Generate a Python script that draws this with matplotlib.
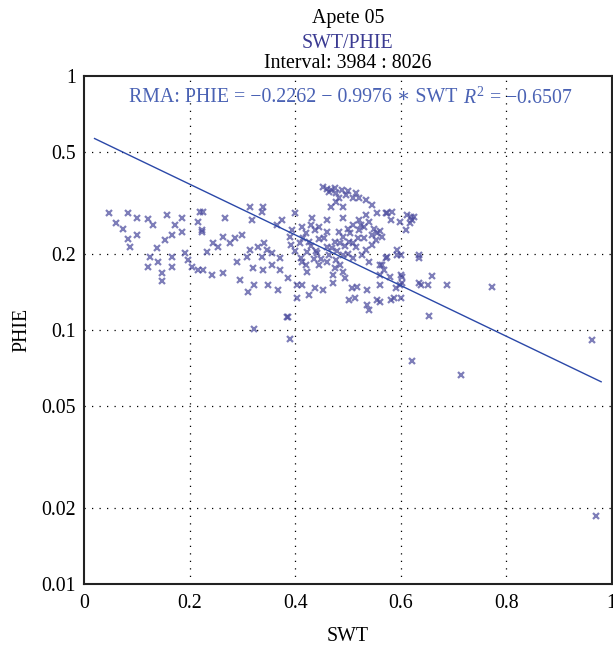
import numpy as np
import matplotlib
matplotlib.use("Agg")
import matplotlib.pyplot as plt

plt.rcParams['font.family'] = ['Liberation Serif', 'DejaVu Serif']
plt.rcParams['mathtext.fontset'] = 'custom'
plt.rcParams['mathtext.rm'] = 'Liberation Serif'
plt.rcParams['mathtext.it'] = 'Liberation Serif:italic'

title1 = "Apete 05"
title2 = "SWT/PHIE"
title3 = "Interval: 3984 : 8026"
x_label = "SWT"
y_label = "PHIE"

intercept = -0.2262
slope = -0.9976
r2 = -0.6507
line_x_range = [0.02, 0.98]

x_ticks = [0, 0.2, 0.4, 0.6, 0.8, 1]
x_tick_labels = ["0", "0.2", "0.4", "0.6", "0.8", "1"]
y_ticks = [0.01, 0.02, 0.05, 0.1, 0.2, 0.5, 1]
y_tick_labels = ["0.01", "0.02", "0.05", "0.1", "0.2", "0.5", "1"]

swt = [
    0.047, 0.061, 0.074, 0.083, 0.100, 0.121, 0.130, 0.100, 0.083, 0.087,
    0.157, 0.172, 0.185, 0.185, 0.166, 0.153, 0.138, 0.125, 0.140, 0.166,
    0.121, 0.166, 0.148, 0.148, 0.191, 0.197, 0.204, 0.216, 0.219, 0.216,
    0.223,
    0.225, 0.223, 0.267, 0.314, 0.339, 0.337, 0.318, 0.299, 0.286, 0.263,
    0.244, 0.233, 0.253, 0.276, 0.289, 0.308, 0.314, 0.329, 0.342, 0.346,
    0.337, 0.320, 0.339, 0.356, 0.371, 0.371, 0.357, 0.393, 0.390, 0.395,
    0.399, 0.365, 0.376, 0.242, 0.263, 0.295, 0.323, 0.310, 0.348, 0.367,
    0.386, 0.403, 0.403, 0.384, 0.225, 0.412, 0.409,
    0.452, 0.469, 0.478, 0.488, 0.497, 0.509, 0.522, 0.535, 0.545, 0.484,
    0.469, 0.490, 0.478, 0.460, 0.475, 0.465, 0.500, 0.515,
    0.433, 0.460, 0.490, 0.522, 0.535, 0.556, 0.575, 0.582, 0.598, 0.613,
    0.626, 0.617, 0.611, 0.414, 0.437, 0.461, 0.484, 0.522, 0.531, 0.545,
    0.554, 0.565, 0.545, 0.535, 0.516, 0.503, 0.490, 0.475, 0.460, 0.446,
    0.427, 0.422, 0.441, 0.465, 0.478, 0.490, 0.509, 0.526, 0.541, 0.560,
    0.575, 0.594, 0.569, 0.560, 0.579, 0.601, 0.603, 0.592, 0.560, 0.537,
    0.518, 0.507, 0.513, 0.503, 0.537, 0.556, 0.541, 0.582, 0.601, 0.422,
    0.414, 0.437, 0.452, 0.427, 0.471, 0.490, 0.471, 0.494, 0.446, 0.414,
    0.635, 0.635,
    0.573, 0.584, 0.620, 0.622, 0.594, 0.601, 0.635, 0.573, 0.565, 0.603,
    0.598, 0.639, 0.651, 0.660, 0.687, 0.774, 0.588, 0.654, 0.622, 0.963,
    0.560,
    0.322, 0.386, 0.390, 0.715, 0.970,
    0.420, 0.430, 0.440, 0.450, 0.455, 0.470, 0.480, 0.485, 0.495, 0.500,
    0.505, 0.430, 0.445, 0.415, 0.400, 0.460, 0.475, 0.485, 0.420, 0.435,
    0.510, 0.525, 0.530, 0.540, 0.550, 0.555, 0.560, 0.520, 0.510, 0.500,
]
phie = [
    0.289, 0.264, 0.250, 0.289, 0.276, 0.274, 0.259, 0.237, 0.228, 0.212,
    0.284, 0.259, 0.243, 0.276, 0.237, 0.226, 0.210, 0.194, 0.185, 0.194,
    0.177, 0.177, 0.168, 0.156, 0.201, 0.189, 0.177, 0.172, 0.292, 0.266,
    0.243,
    0.292, 0.248, 0.276, 0.305, 0.305, 0.292, 0.271, 0.237, 0.230, 0.232,
    0.220, 0.203, 0.212, 0.220, 0.185, 0.194, 0.207, 0.212, 0.220, 0.207,
    0.194, 0.175, 0.172, 0.180, 0.172, 0.192, 0.201, 0.216, 0.232, 0.248,
    0.289, 0.259, 0.271, 0.165, 0.168, 0.157, 0.150, 0.141, 0.150, 0.144,
    0.160, 0.150, 0.134, 0.112, 0.172, 0.192, 0.220,
    0.366, 0.356, 0.346, 0.356, 0.340, 0.331, 0.331, 0.325, 0.311, 0.331,
    0.305, 0.305, 0.319, 0.360, 0.362, 0.350, 0.352, 0.345,
    0.276, 0.271, 0.276, 0.271, 0.284, 0.289, 0.289, 0.271, 0.266, 0.284,
    0.279, 0.264, 0.248, 0.254, 0.248, 0.243, 0.243, 0.248, 0.230, 0.237,
    0.226, 0.232, 0.216, 0.207, 0.212, 0.222, 0.232, 0.222, 0.212, 0.228,
    0.222, 0.203, 0.201, 0.197, 0.189, 0.197, 0.192, 0.197, 0.185, 0.180,
    0.194, 0.197, 0.172, 0.165, 0.162, 0.165, 0.153, 0.146, 0.150, 0.144,
    0.148, 0.146, 0.134, 0.131, 0.125, 0.131, 0.120, 0.131, 0.134, 0.169,
    0.150, 0.146, 0.144, 0.137, 0.165, 0.169, 0.153, 0.160, 0.180, 0.185,
    0.197, 0.153,
    0.289, 0.292, 0.279, 0.271, 0.207, 0.197, 0.192, 0.192, 0.180, 0.162,
    0.150, 0.150, 0.150, 0.163, 0.150, 0.148, 0.134, 0.114, 0.0755, 0.091,
    0.129,
    0.101, 0.112, 0.092, 0.0665, 0.0185,
    0.240, 0.215, 0.205, 0.190, 0.230, 0.210, 0.205, 0.220, 0.215, 0.250,
    0.240, 0.260, 0.255, 0.230, 0.205, 0.185, 0.175, 0.180, 0.180, 0.190,
    0.260, 0.260, 0.255, 0.265, 0.250, 0.240, 0.245, 0.230, 0.220, 0.200,
]

FS = 14.3

fig = plt.figure(figsize=(6.13, 6.48), dpi=100)
ax = fig.add_axes([84 / 613, 1 - 584 / 648, (611.7 - 84) / 613, (584 - 76) / 648])

ax.set_yscale('log')
ax.set_xlim(0, 0.998)
ax.set_ylim(0.01, 1)

ax.plot(swt, phie, linestyle='none', marker='x', markersize=4.8, markeredgewidth=1.6,
        color=(0.30, 0.30, 0.62, 0.72), zorder=3)

lx = np.linspace(line_x_range[0], line_x_range[1], 50)
ly = 10 ** (intercept + slope * lx)
ax.plot(lx, ly, color='#2b48a8', linewidth=1.0, zorder=4)

ax.set_xticks(x_ticks)
ax.set_xticklabels(x_tick_labels)
ax.set_yticks(y_ticks)
ax.set_yticklabels(y_tick_labels)
ax.yaxis.set_minor_locator(matplotlib.ticker.NullLocator())
ax.tick_params(axis='both', length=0, labelsize=FS, colors='black')
ax.tick_params(axis='x', pad=7)
ax.tick_params(axis='y', pad=6)

for gx in x_ticks[1:-1]:
    ax.axvline(gx, color='black', linewidth=0.9, linestyle=(0, (1, 5)), zorder=1)
for gy in y_ticks[1:-1]:
    ax.axhline(gy, color='black', linewidth=0.9, linestyle=(0, (1, 5)), zorder=1)

for s in ax.spines.values():
    s.set_linewidth(1.5)
    s.set_color('#222222')

ax.set_xlabel(x_label, fontsize=FS, labelpad=10)
ax.set_ylabel(y_label, fontsize=FS, labelpad=7)

eq_color = '#4a62b4'
eq1 = "RMA: PHIE = \u22120.2262 \u2212 0.9976 \u2217 SWT "
eq2 = "$R^2$ = \u22120.6507"
t1 = fig.text(129 / 613, 1 - 98 / 648, eq1, fontsize=FS, color=eq_color,
              va='center', ha='left')
fig.canvas.draw()
bb = t1.get_window_extent(renderer=fig.canvas.get_renderer())
fig.text(bb.x1 / fig.bbox.width + 0.002, 1 - 98 / 648, eq2, fontsize=FS, color=eq_color,
         va='center', ha='left')

cx = (84 + 611.7) / 2 / 613
fig.text(cx, 1 - 19 / 648, title1, ha='center', va='center', fontsize=FS, color='black')
fig.text(cx, 1 - 43 / 648, title2, ha='center', va='center', fontsize=FS, color='#3b3b92')
fig.text(cx, 1 - 63 / 648, title3, ha='center', va='center', fontsize=FS, color='black')

fig.savefig("out.png", dpi=100)
